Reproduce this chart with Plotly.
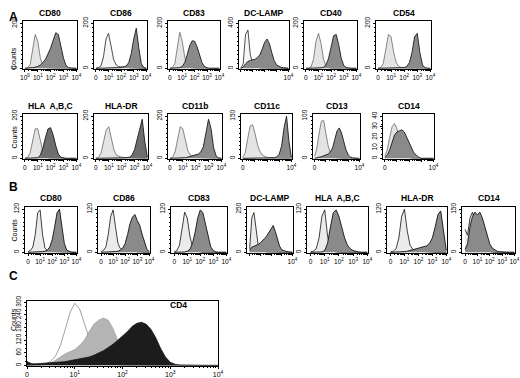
import math
import plotly.graph_objects as go

W, H = 520, 378

# ---------------- data (log10 fluorescence grid, counts) ----------------
G = [0.0, 0.2, 0.4, 0.6, 0.8, 1.0, 1.2, 1.4, 1.6, 1.8, 2.0,
     2.2, 2.4, 2.6, 2.8, 3.0, 3.2, 3.4, 3.6, 3.8, 4.0]
GC = [0.0, 0.1, 0.2, 0.3, 0.4, 0.5, 0.6, 0.7, 0.8, 0.9, 1.0,
      1.1, 1.2, 1.3, 1.4, 1.5, 1.6, 1.7, 1.8, 1.9, 2.0,
      2.1, 2.2, 2.3, 2.4, 2.5, 2.6, 2.7, 2.8, 2.9, 3.0,
      3.1, 3.2, 3.3, 3.4, 3.5, 3.6, 3.7, 3.8, 3.9, 4.0]

# Panel A, row 1
a_cd80_ctrl = [0, 2, 15, 80, 150, 120, 45, 12, 4, 2, 1, 0, 0, 0, 0, 0, 0, 0, 0, 0, 0]
a_cd80_stain = [0, 0, 1, 3, 5, 8, 15, 25, 40, 62, 90, 125, 158, 150, 100, 45, 12, 3, 1, 0, 0]
a_cd86_ctrl = [0, 3, 10, 50, 130, 155, 100, 40, 15, 8, 5, 4, 3, 2, 1, 0, 0, 0, 0, 0, 0]
a_cd86_stain = [0, 0, 0, 0, 0, 0, 0, 1, 2, 3, 4, 6, 10, 25, 65, 130, 178, 90, 20, 3, 0]
a_cd83_ctrl = [0, 3, 20, 100, 160, 120, 50, 15, 5, 2, 0, 0, 0, 0, 0, 0, 0, 0, 0, 0, 0]
a_cd83_stain = [0, 0, 0, 1, 3, 8, 25, 60, 100, 122, 120, 95, 60, 25, 8, 2, 0, 0, 0, 0, 0]
a_dclamp_ctrl = [0, 40, 300, 340, 120, 45, 20, 10, 5, 3, 2, 1, 0, 0, 0, 0, 0, 0, 0, 0, 0]
a_dclamp_stain = [0, 10, 40, 60, 70, 75, 80, 95, 120, 170, 230, 260, 220, 140, 70, 30, 15, 8, 5, 2, 0]
a_cd40_ctrl = [0, 0, 5, 40, 120, 155, 110, 40, 10, 3, 0, 0, 0, 0, 0, 0, 0, 0, 0, 0, 0]
a_cd40_stain = [0, 0, 0, 0, 0, 0, 2, 5, 15, 45, 100, 145, 150, 105, 45, 12, 3, 0, 0, 0, 0]
a_cd54_ctrl = [0, 3, 20, 90, 150, 140, 70, 25, 8, 3, 1, 0, 0, 0, 0, 0, 0, 0, 0, 0, 0]
a_cd54_stain = [0, 0, 0, 0, 0, 0, 0, 0, 1, 2, 3, 8, 25, 70, 140, 155, 70, 15, 2, 0, 0]
# Panel A, row 2
a_hlaabc_ctrl = [0, 5, 25, 80, 140, 140, 80, 30, 10, 3, 1, 0, 0, 0, 0, 0, 0, 0, 0, 0, 0]
a_hlaabc_stain = [0, 0, 0, 0, 1, 3, 15, 50, 100, 140, 145, 110, 60, 20, 5, 1, 0, 0, 0, 0, 0]
a_hladr_ctrl = [0, 5, 25, 80, 135, 150, 100, 40, 15, 8, 5, 4, 3, 2, 1, 0, 0, 0, 0, 0, 0]
a_hladr_stain = [0, 0, 0, 0, 0, 0, 0, 0, 0, 1, 2, 2, 3, 5, 15, 40, 90, 150, 185, 80, 5]
a_cd11b_ctrl = [0, 5, 30, 100, 150, 140, 80, 35, 15, 8, 5, 4, 3, 2, 1, 0, 0, 0, 0, 0, 0]
a_cd11b_stain = [0, 0, 0, 0, 1, 2, 3, 6, 10, 14, 16, 20, 30, 55, 120, 185, 140, 50, 10, 2, 0]
a_cd11c_ctrl = [3, 20, 70, 115, 120, 90, 50, 25, 12, 6, 3, 2, 1, 0, 0, 0, 0, 0, 0, 0, 0]
a_cd11c_stain = [0, 0, 0, 0, 0, 0, 0, 0, 0, 0, 0, 1, 1, 2, 5, 15, 45, 110, 150, 60, 3]
a_cd13_ctrl = [5, 25, 60, 88, 90, 60, 30, 12, 5, 2, 1, 0, 0, 0, 0, 0, 0, 0, 0, 0, 0]
a_cd13_stain = [0, 1, 2, 4, 6, 8, 10, 15, 25, 45, 65, 72, 60, 40, 20, 8, 3, 1, 0, 0, 0]
a_cd14_ctrl = [2, 8, 20, 30, 33, 28, 18, 10, 5, 2, 1, 0, 0, 0, 0, 0, 0, 0, 0, 0, 0]
a_cd14_stain = [1, 3, 8, 15, 22, 25, 26, 27, 25, 20, 14, 9, 5, 3, 1, 0, 0, 0, 0, 0, 0]
# Panel B
b_cd80_ctrl = [2, 5, 15, 50, 110, 118, 50, 12, 5, 3, 3, 2, 2, 1, 1, 0, 0, 0, 0, 0, 0]
b_cd80_stain = [0, 0, 0, 0, 0, 1, 2, 3, 6, 15, 35, 70, 110, 120, 70, 25, 6, 2, 0, 0, 0]
b_cd86_ctrl = [2, 5, 15, 50, 100, 118, 70, 25, 10, 8, 6, 5, 4, 3, 2, 1, 0, 0, 0, 0, 0]
b_cd86_stain = [0, 0, 0, 0, 1, 2, 2, 3, 6, 12, 25, 50, 80, 98, 105, 88, 75, 50, 25, 8, 2]
b_cd83_ctrl = [1, 5, 20, 70, 112, 95, 45, 15, 6, 3, 1, 0, 0, 0, 0, 0, 0, 0, 0, 0, 0]
b_cd83_stain = [0, 0, 0, 0, 1, 3, 8, 25, 55, 95, 118, 110, 75, 40, 15, 5, 1, 0, 0, 0, 0]
b_dclamp_ctrl = [20, 200, 230, 120, 40, 15, 8, 5, 3, 2, 1, 0, 0, 0, 0, 0, 0, 0, 0, 0, 0]
b_dclamp_stain = [10, 30, 35, 40, 45, 55, 65, 80, 95, 115, 140, 155, 120, 70, 35, 15, 8, 5, 3, 1, 0]
b_hlaabc_ctrl = [1, 3, 10, 40, 100, 118, 45, 10, 3, 1, 0, 0, 0, 0, 0, 0, 0, 0, 0, 0, 0]
b_hlaabc_stain = [0, 0, 0, 0, 1, 5, 25, 70, 110, 118, 100, 70, 40, 20, 10, 5, 2, 1, 0, 0, 0]
b_hladr_ctrl = [1, 3, 10, 40, 100, 120, 60, 20, 8, 5, 4, 3, 2, 1, 0, 0, 0, 0, 0, 0, 0]
b_hladr_stain = [0, 0, 0, 0, 1, 2, 3, 5, 8, 10, 10, 12, 14, 18, 25, 40, 70, 105, 115, 60, 5]
b_cd14_ctrl = [80, 60, 120, 140, 110, 70, 40, 20, 10, 5, 2, 1, 0, 0, 0, 0, 0, 0, 0, 0, 0]
b_cd14_stain = [10, 30, 90, 125, 140, 130, 140, 120, 90, 55, 30, 15, 8, 4, 2, 1, 0, 0, 0, 0, 0]
# Panel C (CD4)
c_open = [0, 0, 1, 3, 8, 20, 45, 95, 170, 250, 295, 270, 200, 130, 75, 40, 20, 10, 5, 2, 1,
          0, 0, 0, 0, 0, 0, 0, 0, 0, 0, 0, 0, 0, 0, 0, 0, 0, 0, 0, 0]
c_gray = [0, 0, 1, 3, 6, 12, 25, 40, 55, 65, 75, 95, 120, 160, 195, 215, 225, 215, 175, 120, 70,
          35, 15, 6, 2, 0, 0, 0, 0, 0, 0, 0, 0, 0, 0, 0, 0, 0, 0, 0, 0]
c_dark = [18, 8, 8, 9, 10, 12, 14, 16, 18, 22, 26, 30, 35, 40, 48, 58, 70, 85, 100, 120, 140,
          160, 185, 200, 205, 195, 170, 130, 80, 40, 15, 5, 2, 1, 0, 0, 0, 0, 0, 0, 0]

SUP = ["0", "1", "2", "3", "4"]
def dec(i):
    return "10<sup>%s</sup>" % SUP[i]
TT_10 = [dec(0), dec(1), dec(2), dec(3), dec(4)]
TT_0 = ["0", dec(1), dec(2), dec(3), dec(4)]
TT_E = ["", "", "", "", dec(4)]
TT_0E = ["0", "", "", "", dec(4)]

# ---------------- panel layout (pixels) and styles ----------------
panels = [
    ("CD80", a_cd80_ctrl, a_cd80_stain, 210, [0, 200], (23, 21, 77, 69), TT_10, -0.15, "A"),
    ("CD86", a_cd86_ctrl, a_cd86_stain, 210, [0, 200], (94, 21, 147, 69), TT_0, -0.15, "A"),
    ("CD83", a_cd83_ctrl, a_cd83_stain, 210, [0, 200], (168, 21, 220, 69), TT_0, -0.15, "A"),
    ("DC-LAMP", a_dclamp_ctrl, a_dclamp_stain, 420, [0, 400], (239, 21, 289, 69), TT_E, -0.15, "A"),
    ("CD40", a_cd40_ctrl, a_cd40_stain, 210, [0, 200], (304, 21, 357, 69), TT_0, -0.15, "A"),
    ("CD54", a_cd54_ctrl, a_cd54_stain, 210, [0, 200], (376, 21, 431, 69), TT_0, -0.15, "A"),
    ("HLA  A,B,C", a_hlaabc_ctrl, a_hlaabc_stain, 210, [0, 200], (23, 114, 77, 159), TT_0, -0.15, "A"),
    ("HLA-DR", a_hladr_ctrl, a_hladr_stain, 210, [0, 200], (94, 114, 148, 159), TT_0, -0.15, "A"),
    ("CD11b", a_cd11b_ctrl, a_cd11b_stain, 210, [0, 200], (168, 114, 222, 159), TT_0, -0.15, "A"),
    ("CD11c", a_cd11c_ctrl, a_cd11c_stain, 158, [0, 150], (241, 114, 292, 159), TT_0E, -0.15, "A"),
    ("CD13", a_cd13_ctrl, a_cd13_stain, 105, [0, 100], (313, 114, 360, 159), TT_0E, -0.15, "A"),
    ("CD14", a_cd14_ctrl, a_cd14_stain, 42, [0, 10, 20, 30, 40], (383, 114, 434, 159), TT_0E, -0.15, "A"),
    ("CD80", b_cd80_ctrl, b_cd80_stain, 126, [0, 120], (25, 207, 77, 253), TT_0, -0.25, "B"),
    ("CD86", b_cd86_ctrl, b_cd86_stain, 126, [0, 120], (98, 207, 150, 253), TT_0, -0.25, "B"),
    ("CD83", b_cd83_ctrl, b_cd83_stain, 126, [0, 120], (171, 207, 227, 253), TT_0, -0.25, "B"),
    ("DC-LAMP", b_dclamp_ctrl, b_dclamp_stain, 262, [0, 250], (247, 207, 293, 253), TT_E, -0.25, "B"),
    ("HLA  A,B,C", b_hlaabc_ctrl, b_hlaabc_stain, 126, [0, 120], (307, 207, 368, 253), TT_0, -0.25, "B"),
    ("HLA-DR", b_hladr_ctrl, b_hladr_stain, 126, [0, 120], (387, 207, 447, 253), TT_0, -0.25, "B"),
    ("CD14", b_cd14_ctrl, b_cd14_stain, 158, [0, 150], (462, 207, 515, 253), TT_0, -0.25, "B"),
]
open_ctrl_panels = [2, 4]   # panel A CD86 and DC-LAMP: open (white) control histograms

FONT = "Liberation Sans, Arial, sans-serif"
fig = go.Figure()
annotations = []
minor_x = [d + math.log10(k) for d in range(4) for k in range(2, 10)]

def px_dom(l, t, r, b):
    return [l / W, r / W], [1 - b / H, 1 - t / H]

def add_axes(i, box, xr, yr, ytv, xtt, minor_dy, xfs=6.5):
    xd, yd = px_dom(*box)
    sx = "" if i == 1 else str(i)
    common = dict(showline=True, linecolor="black", linewidth=1, mirror=True,
                  ticks="outside", tickcolor="black", tickwidth=1, ticklen=2,
                  showgrid=False, zeroline=False, automargin=False)
    fig.layout["xaxis" + sx] = dict(domain=xd, anchor="y" + sx, range=xr,
                                    tickmode="array", tickvals=[0, 1, 2, 3, 4], ticktext=xtt,
                                    tickangle=0,
                                    tickfont=dict(size=xfs, family=FONT, color="black"),
                                    minor=dict(tickmode="array", tickvals=minor_x, ticks="outside",
                                               ticklen=1, tickcolor="black"),
                                    **common)
    fig.layout["yaxis" + sx] = dict(domain=yd, anchor="x" + sx, range=yr,
                                    tickmode="array", tickvals=ytv, ticktext=[str(v) for v in ytv],
                                    tickangle=-90,
                                    tickfont=dict(size=6.5, family=FONT, color="black"),
                                    minor=dict(dtick=minor_dy, ticks="outside", ticklen=1.5,
                                               tickcolor="black"),
                                    **common)

for i, (title, ctrl, stain, ytop, ytv, box, xtt, xmin, sec) in enumerate(panels, start=1):
    sx = "" if i == 1 else str(i)
    if sec == "A":
        cfill, cline = "#e4e4e4", "#6a6a6a"
        sfill, sline = "#8a8a8a", "#1a1a1a"
    else:
        cfill, cline = "#ebebeb", "#111111"
        sfill, sline = "#8a8a8a", "#111111"
    if i in open_ctrl_panels:
        cfill, cline = "#f6f6f6", "#222222"
    if title.startswith("HLA") and sec == "A":
        sfill = "#6e6e6e"
    fig.add_trace(go.Scatter(x=G, y=ctrl, mode="lines", fill="tozeroy", fillcolor=cfill,
                             line=dict(color=cline, width=0.8), xaxis="x" + sx, yaxis="y" + sx,
                             showlegend=False, hoverinfo="skip"))
    fig.add_trace(go.Scatter(x=G, y=stain, mode="lines", fill="tozeroy", fillcolor=sfill,
                             line=dict(color=sline, width=0.9), xaxis="x" + sx, yaxis="y" + sx,
                             showlegend=False, hoverinfo="skip"))
    add_axes(i, box, [xmin, 4.05], [-ytop * 0.015, ytop], ytv, xtt, ytv[-1] / 10)
    l, t, r, b = box
    annotations.append(dict(x=(l + r) / 2 / W, y=1 - (t - 1.5) / H, xref="paper", yref="paper",
                            text="<b>%s</b>" % title, showarrow=False, xanchor="center",
                            yanchor="bottom", font=dict(size=8.5, family=FONT, color="black")))

# Panel C
ic = len(panels) + 1
sc = str(ic)
cbox = (27, 301, 218, 366)
for yv, fc, lc, lw in [(c_open, "rgba(255,255,255,0.0)", "#777777", 0.7),
                       (c_gray, "#b4b4b4", "#9a9a9a", 0.7),
                       (c_dark, "#1c1c1c", "#111111", 0.7)]:
    fig.add_trace(go.Scatter(x=GC, y=yv, mode="lines", fill="tozeroy", fillcolor=fc,
                             line=dict(color=lc, width=lw), xaxis="x" + sc, yaxis="y" + sc,
                             showlegend=False, hoverinfo="skip"))
add_axes(ic, cbox, [0, 4.0], [-3, 306], [0, 60, 120, 180, 240, 300], TT_0, 20, xfs=7)
annotations.append(dict(x=178 / W, y=1 - 312 / H, xref="paper", yref="paper", text="<b>CD4</b>",
                        showarrow=False, font=dict(size=8.5, family=FONT, color="black")))

# Counts labels and section letters
for yc in [45, 137, 230, 333]:
    annotations.append(dict(x=8 / W, y=1 - yc / H, xref="paper", yref="paper", text="Counts",
                            textangle=-90, showarrow=False,
                            font=dict(size=7, family=FONT, color="black")))
for letter, yc in [("A", 8), ("B", 187), ("C", 285)]:
    annotations.append(dict(x=7 / W, y=1 - yc / H, xref="paper", yref="paper",
                            text="<b>%s</b>" % letter, showarrow=False,
                            font=dict(size=12, family=FONT, color="black")))

fig.update_layout(width=W, height=H,
                  margin=dict(l=0, r=0, t=0, b=0, pad=0, autoexpand=False),
                  paper_bgcolor="white", plot_bgcolor="white",
                  annotations=annotations, showlegend=False)
fig.write_html("out.html", include_plotlyjs=True, full_html=True,
               config={"responsive": False, "displayModeBar": False},
               post_script="document.body.style.margin='0px';document.body.style.padding='0px';")
